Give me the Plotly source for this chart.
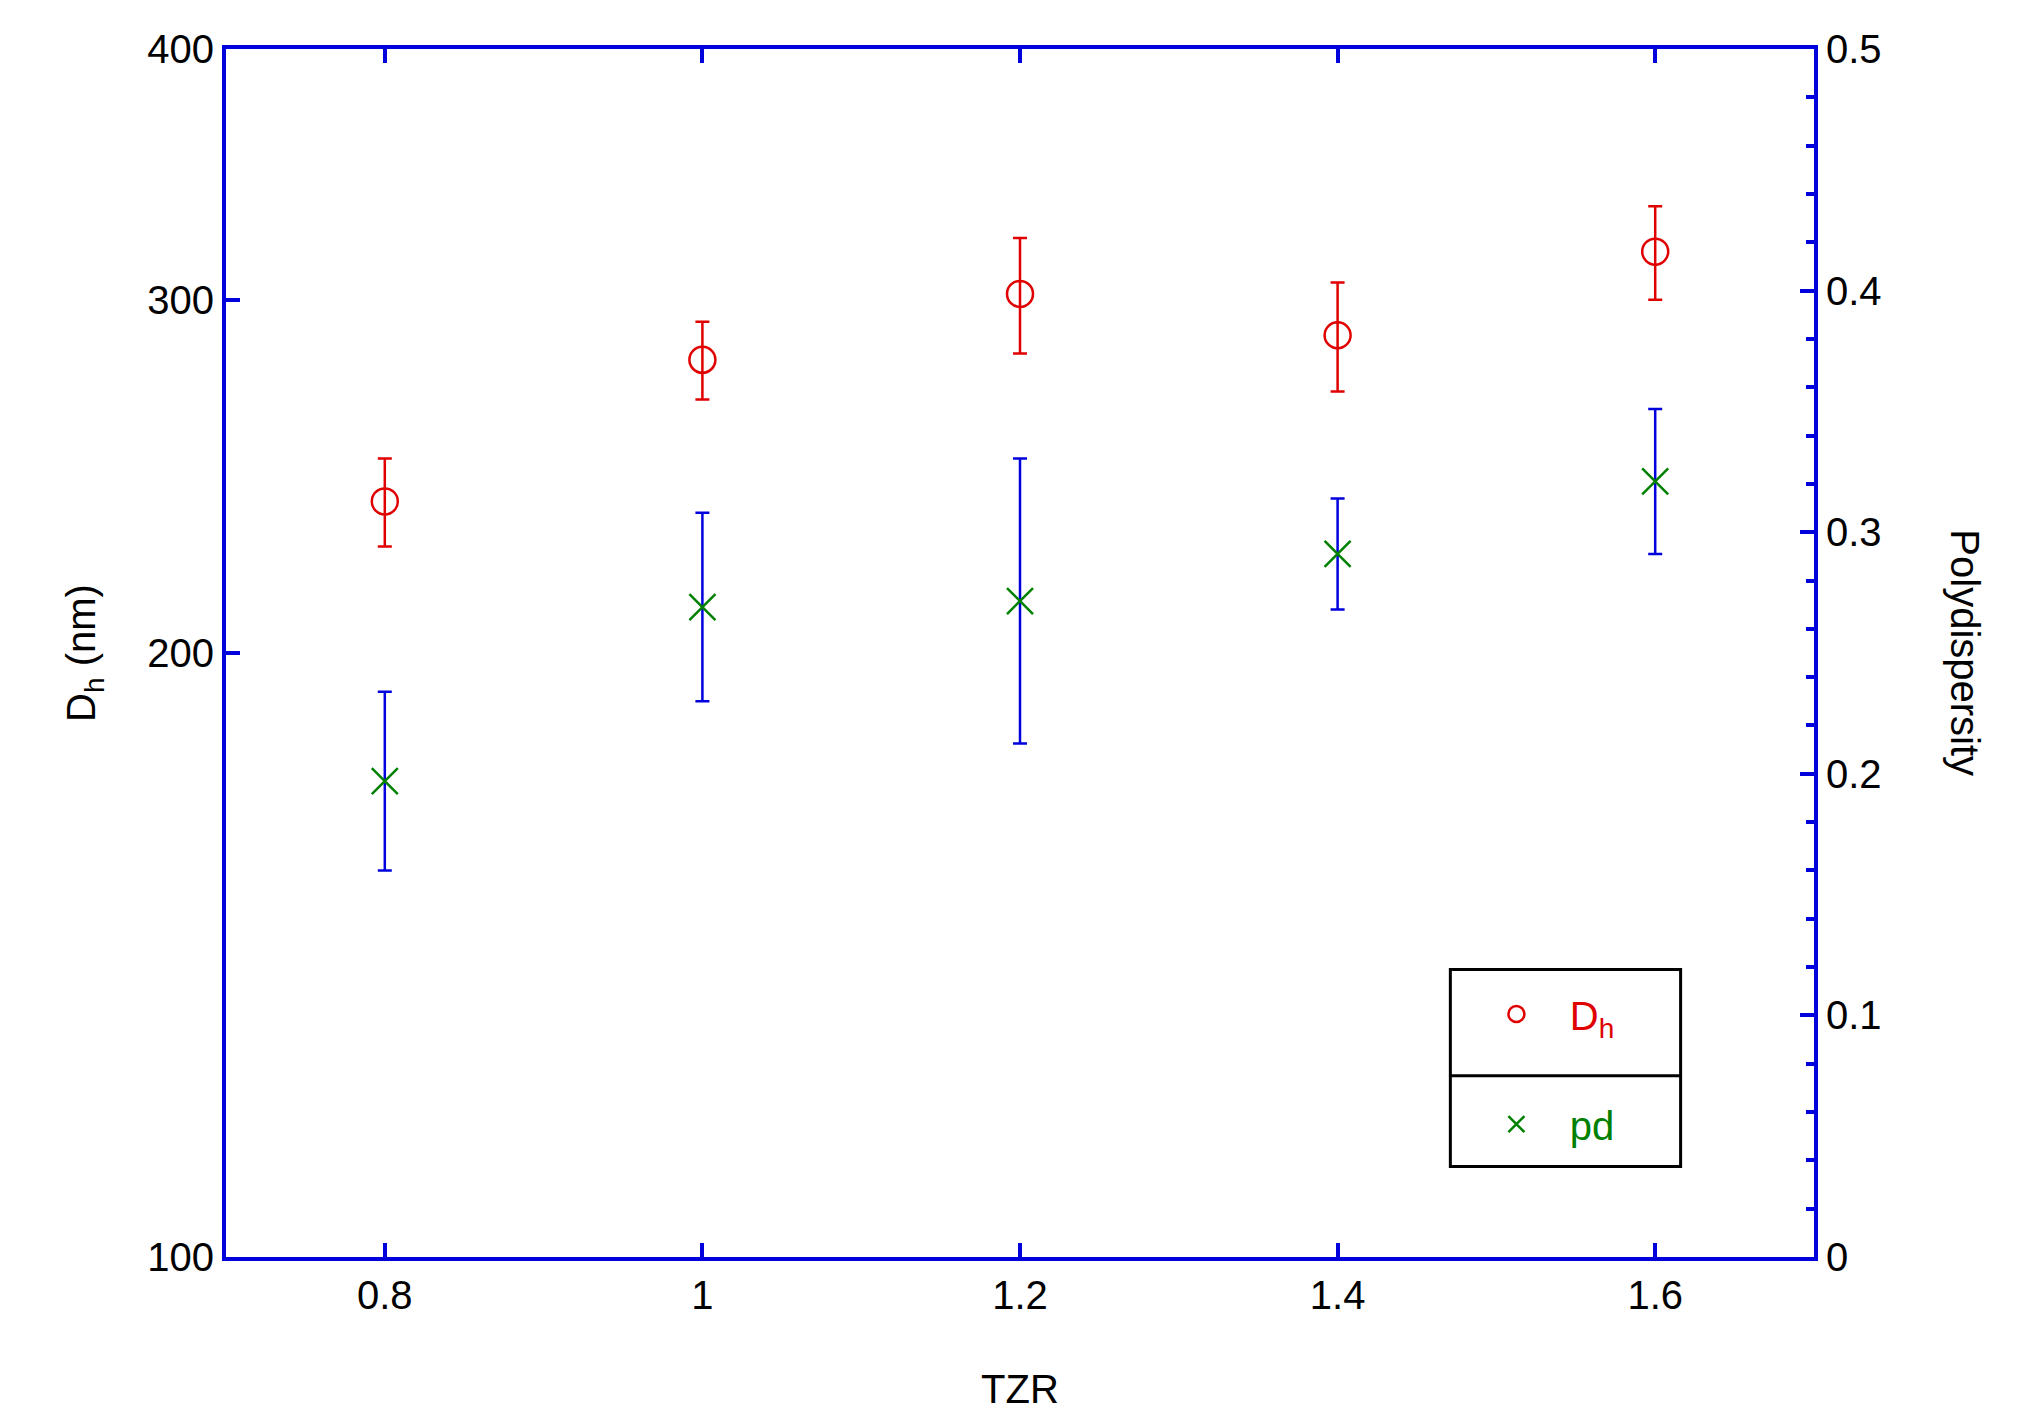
import plotly.graph_objects as go

tzr = [0.8, 1.0, 1.2, 1.4, 1.6]
dh = [238, 280, 302, 288, 317]
dh_err = [12, 12.5, 20, 18, 17]
pd_vals = [0.197, 0.269, 0.2715, 0.291, 0.321]
pd_err = [0.037, 0.039, 0.059, 0.023, 0.030]

F = "Liberation Sans, Arial, sans-serif"
blue = "#0000dd"
fig = go.Figure()
fig.add_trace(go.Scatter(x=tzr, y=dh, mode="markers", name="<span style='color:#e00000'>   D<sub>h</sub></span>",
    legendgroup="a",
    marker=dict(symbol="circle-open", size=26, color="#e00000", line=dict(width=2.5)),
    error_y=dict(type="data", array=dh_err, color="#e00000", thickness=2.5, width=7)))
fig.add_trace(go.Scatter(x=tzr, y=pd_vals, mode="markers", yaxis="y2", name="<span style='color:#008000'>   pd</span>",
    legendgroup="b",
    marker=dict(symbol="x-thin-open", size=26, color="#008000", line=dict(width=2.5, color="#008000")),
    error_y=dict(type="data", array=pd_err, color=blue, thickness=2.5, width=7)))

ax = dict(showline=True, linecolor=blue, linewidth=4, ticks="inside", tickcolor=blue, tickwidth=4,
          ticklen=14, showgrid=False, zeroline=False, tickfont=dict(size=40, color="black", family=F))
fig.update_layout(
    width=2020, height=1428, plot_bgcolor="white", paper_bgcolor="white",
    margin=dict(l=218, r=214, t=41, b=179), font=dict(family=F, color="black"),
    xaxis=dict(ax, range=[0.7, 1.7], tickvals=tzr, ticktext=["0.8", "1", "1.2", "1.4", "1.6"], mirror="ticks",
               title=dict(text="TZR", font=dict(size=40), standoff=60)),
    yaxis=dict(ax, type="log", range=[2, 2.60206], tickvals=[100, 200, 300, 400],
               title=dict(text="D<sub>h</sub> (nm)", font=dict(size=40), standoff=40)),
    yaxis2=dict(ax, overlaying="y", side="right", range=[0, 0.5],
                tickvals=[0, 0.1, 0.2, 0.3, 0.4, 0.5], ticktext=["0", "0.1", "0.2", "0.3", "0.4", "0.5"],
                minor=dict(dtick=0.02, ticks="inside", ticklen=8, tickcolor=blue, tickwidth=4)),
    legend=dict(x=0.80, y=0.228, xanchor="left", yanchor="top", bgcolor="rgba(0,0,0,0)",
                font=dict(size=40), tracegroupgap=55, itemsizing="trace"),
    showlegend=True,
)
fig.add_shape(type="rect", xref="paper", yref="paper", x0=0.771, x1=0.916, y0=0.075, y1=0.238,
              line=dict(color="black", width=3))
fig.add_shape(type="line", xref="paper", yref="paper", x0=0.771, x1=0.916, y0=0.150, y1=0.150,
              line=dict(color="black", width=3))
fig.add_annotation(text="Polydispersity", xref="paper", yref="paper", x=1.11, y=0.5, textangle=90,
                   showarrow=False, font=dict(size=40))
fig.write_html("out.html")
